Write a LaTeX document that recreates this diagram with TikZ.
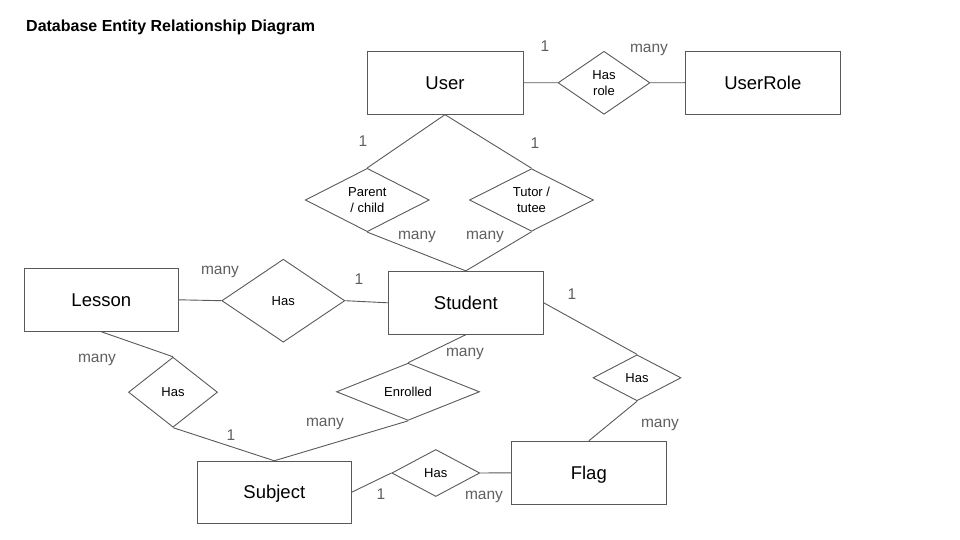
\documentclass[tikz,border=0pt]{standalone}
\usepackage{fontspec}
\setmainfont{Liberation Sans}
\usetikzlibrary{shapes.geometric}
\definecolor{linegray}{RGB}{89,89,89}
\definecolor{labelgray}{RGB}{95,95,95}
\tikzset{
  entity/.style={draw=linegray, line width=0.9pt, rectangle, inner sep=0pt,
    text height=13.3pt, text depth=0pt,
    font=\fontsize{18.5}{22}\selectfont, text=black},
  rel/.style={draw=linegray, line width=0.9pt, diamond, inner sep=0pt, align=center,
    font=\fontsize{13}{16}\selectfont, text=black},
  card/.style={text=labelgray, inner sep=0pt, font=\fontsize{15.5}{18}\selectfont},
  conn/.style={draw=linegray, line width=0.9pt},
}
\begin{document}
\begin{tikzpicture}[x=1pt,y=-1pt]
\useasboundingbox (0,0) rectangle (960,540);
\node[anchor=base west, inner sep=0pt, font=\fontsize{16}{19}\selectfont\bfseries] (title) at (26,32) {Database Entity Relationship Diagram};

% entities
\node[entity, minimum width=156pt, minimum height=63pt] (user) at (445,82.7) {User};
\node[entity, minimum width=155pt, minimum height=63pt] (userrole) at (762.8,82.7) {UserRole};
\node[entity, minimum width=155pt, minimum height=63pt] (student) at (465.8,302.8) {Student};
\node[entity, minimum width=154pt, minimum height=63pt] (lesson) at (101.3,299.8) {Lesson};
\node[entity, minimum width=154pt, minimum height=62pt] (subject) at (274.3,492.2) {Subject};
\node[entity, minimum width=155pt, minimum height=63pt] (flag) at (588.8,472.8) {Flag};

% relationships
\node[rel, minimum width=92pt, minimum height=63pt] (hasrole) at (604,82.8) {Has\\role};
\node[rel, minimum width=124pt, minimum height=61pt] (parent) at (367.3,200) {Parent\\/ child};
\node[rel, minimum width=124pt, minimum height=58pt] (tutor) at (531.5,200) {Tutor /\\tutee};
\node[rel, minimum width=123pt, minimum height=83pt] (hasls) at (283.3,300.7) {Has};
\node[rel, minimum width=89pt, minimum height=70pt] (haslsub) at (173,392.2) {Has};
\node[rel, minimum width=143pt, minimum height=57pt] (enrolled) at (408,391.8) {Enrolled};
\node[rel, minimum width=88pt, minimum height=46pt] (hasflag) at (637,377.8) {Has};
\node[rel, minimum width=88pt, minimum height=47pt] (hassf) at (435.8,473) {Has};

% connectors
\draw[conn] (user.east) -- (hasrole.west);
\draw[conn] (hasrole.east) -- (userrole.west);
\draw[conn] (user.south) -- (parent.north);
\draw[conn] (user.south) -- (tutor.north);
\draw[conn] (parent.south) -- (student.north);
\draw[conn] (tutor.south) -- (student.north);
\draw[conn] (lesson.east) -- (hasls.west);
\draw[conn] (hasls.east) -- (student.west);
\draw[conn] (lesson.south) -- (haslsub.north);
\draw[conn] (haslsub.south) -- (subject.north);
\draw[conn] (student.south) -- (enrolled.north);
\draw[conn] (enrolled.south) -- (subject.north);
\draw[conn] (student.east) -- (hasflag.north);
\draw[conn] (hasflag.south) -- (flag.north);
\draw[conn] (subject.east) -- (hassf.west);
\draw[conn] (hassf.east) -- (flag.west);

% cardinality labels
\node[card] (c1) at (545,46.5) {1};
\node[card] (c2) at (649,50) {many};
\node[card] (c3) at (363,141.5) {1};
\node[card] (c4) at (535,143.5) {1};
\node[card] (c5) at (417,237) {many};
\node[card] (c6) at (485,237) {many};
\node[card] (c7) at (220,272) {many};
\node[card] (c8) at (359,279.5) {1};
\node[card] (c9) at (97,360) {many};
\node[card] (c10) at (231,435.5) {1};
\node[card] (c11) at (325,424) {many};
\node[card] (c12) at (465,354) {many};
\node[card] (c13) at (572,294.5) {1};
\node[card] (c14) at (660,425) {many};
\node[card] (c15) at (381,494) {1};
\node[card] (c16) at (484,497) {many};
\end{tikzpicture}
\end{document}
